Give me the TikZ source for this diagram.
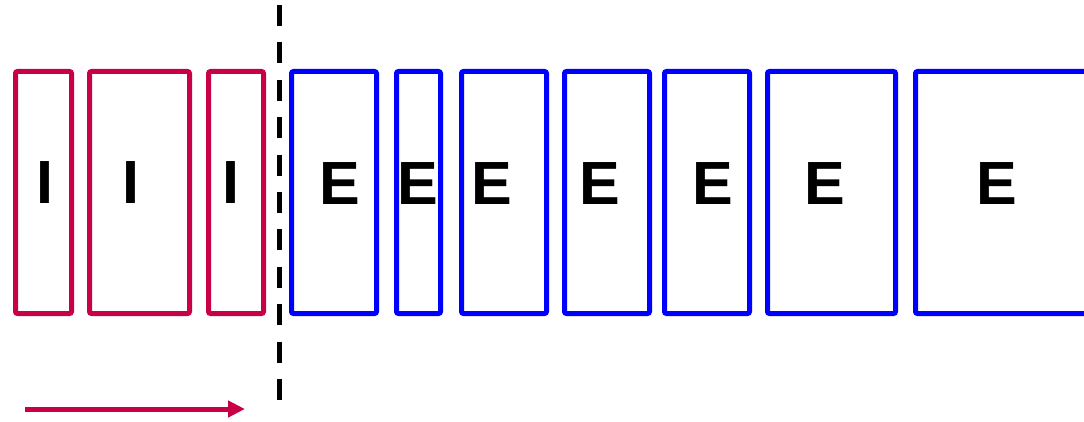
\documentclass[tikz,border=0pt]{standalone}
\usepackage{fontspec}
\setmainfont{Liberation Sans}
\usetikzlibrary{arrows.meta,positioning}
\definecolor{ired}{RGB}{200,0,72}
\definecolor{eblue}{RGB}{0,0,255}
\tikzset{
  ibox/.style={
    shape = rectangle,
    draw = ired,
    line width = 5pt,
    rounded corners = 2pt,
    inner sep = 0pt,
    minimum height = 242pt
  },
  ebox/.style={
    ibox,
    draw = eblue
  },
  letter/.style={
    inner sep = 0pt,
    font = \fontsize{61}{61}\selectfont\bfseries
  },
  border/.style={
    line width = 5pt,
    dash pattern = on 21pt off 16.4pt
  },
  flow/.style={
    draw = ired,
    line width = 5pt,
    -{Triangle[length=17pt,width=16pt]}
  }
}

\begin{document}
\begin{tikzpicture}[x=1pt,y=-1pt]
  \clip (0,0) rectangle (1084,422);
  \foreach \cx/\w/\tx [count=\i] in {43.5/56/44.5,139.5/100/130.5,236/55/230.5}{
    \node[ibox,minimum width=\w] (i\i) at (\cx,192.5) {};
    \node[letter] (li\i) at (\tx,182.5) {I};
  }
  \foreach \cx/\w/\tx [count=\i] in {334/85/340,418.5/44/418,504/85/491.5,607/85/600,
      707/85/713,831.5/128/825,1005.5/180/997}{
    \node[ebox,minimum width=\w] (e\i) at (\cx,192.5) {};
    \node[letter] (le\i) at (\tx,184) {E};
  }
  \coordinate (top) at (279.5,5);
  \coordinate (bottom) at (279.5,400);
  \draw[border] (top) -- (bottom);
  \coordinate (start) at (25,409);
  \coordinate (end) at (245,409);
  \draw[flow] (start) -- (end);
\end{tikzpicture}
\end{document}
